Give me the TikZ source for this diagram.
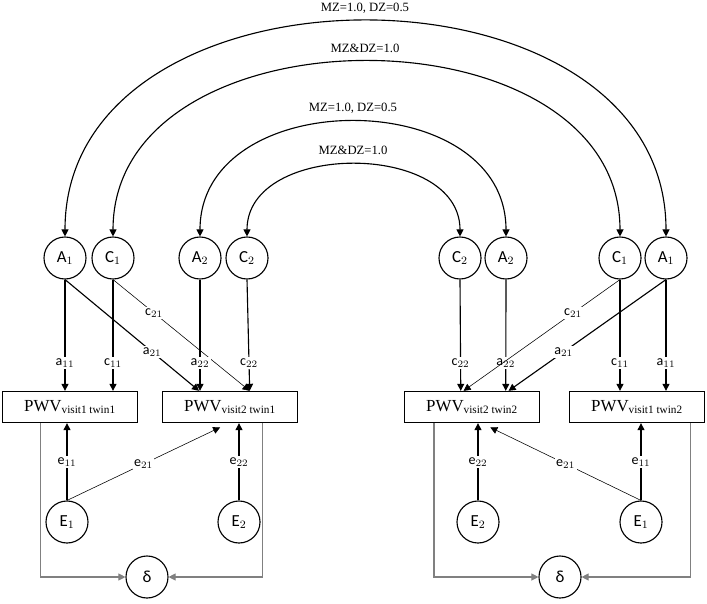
\documentclass[tikz,border=0pt]{standalone}
\usepackage{fontspec}
\setmainfont{Liberation Serif}
\newfontfamily\carl{Carlito}
\usetikzlibrary{arrows.meta,positioning}
\tikzset{
  lat/.style={circle,draw,thick,minimum size=1.05cm,inner sep=0pt,font=\carl\large},
  obs/.style={draw,thick,minimum width=3.38cm,minimum height=0.78cm,inner sep=0pt,font=\large},
  path/.style={thick},
  tip/.style={-{Triangle[length=5pt,width=5pt]}},
  lab/.style={fill=white,inner sep=1pt,font=\carl},
  cov/.style={thick,{Triangle[length=5pt,width=5pt]}-{Triangle[length=5pt,width=5pt]}},
}
\begin{document}
\begin{tikzpicture}[x=0.025cm,y=-0.025cm]
  \useasboundingbox (0,0) rectangle (707,603);
  % latent factors
  \node[lat] (A1l) at (65,258) {A$_1$};
  \node[lat] (C1l) at (113,258) {C$_1$};
  \node[lat] (A2l) at (200,258) {A$_2$};
  \node[lat] (C2l) at (247,258) {C$_2$};
  \node[lat] (C2r) at (460,258) {C$_2$};
  \node[lat] (A2r) at (506,258) {A$_2$};
  \node[lat] (C1r) at (620,258) {C$_1$};
  \node[lat] (A1r) at (666,258) {A$_1$};
  % observed
  \node[obs] (P11) at (70,407) {PWV\textsubscript{visit1 twin1}};
  \node[obs] (P21) at (230,407) {PWV\textsubscript{visit2 twin1}};
  \node[obs] (P22) at (472,407) {PWV\textsubscript{visit2 twin2}};
  \node[obs] (P12) at (637,407) {PWV\textsubscript{visit1 twin2}};
  % errors
  \node[lat] (E1l) at (67,522) {E$_1$};
  \node[lat] (E2l) at (239,522) {E$_2$};
  \node[lat] (E2r) at (478,522) {E$_2$};
  \node[lat] (E1r) at (641,522) {E$_1$};
  \node[lat] (dl) at (147,577) {δ};
  \node[lat] (dr) at (560,577) {δ};
  % covariances
  \draw[cov] (A1l.north) .. controls (65,-50) and (666,-50) .. (A1r.north);
  \node[font=\small] at (365,8) {MZ=1.0, DZ=0.5};
  \draw[cov] (C1l.north) .. controls (113,4) and (620,4) .. (C1r.north);
  \node[font=\small] at (365,48) {MZ\&DZ=1.0};
  \draw[cov] (A2l.north) .. controls (200,84) and (506,84) .. (A2r.north);
  \node[font=\small] at (353,108) {MZ=1.0, DZ=0.5};
  \draw[cov] (C2l.north) .. controls (247,141) and (460,141) .. (C2r.north);
  \node[font=\small] at (353,150) {MZ\&DZ=1.0};
  % twin 1 loadings
  \draw[path,tip] (A1l.south) -- node[lab,pos=0.75]{a$_{11}$} (A1l.south |- P11.north);
  \draw[path,tip] (C1l.south) -- node[lab,pos=0.75]{c$_{11}$} (C1l.south |- P11.north);
  \draw[path,tip] (A1l.south) -- node[lab,pos=0.65]{a$_{21}$} ([xshift=-22pt]P21.north);
  \draw[thin,tip] (C1l.south) -- node[lab,pos=0.3]{c$_{21}$} ([xshift=14pt]P21.north);
  \draw[path,tip] (A2l.south) -- node[lab,pos=0.75]{a$_{22}$} (A2l.south |- P21.north);
  \draw[path,tip] (C2l.south) -- node[lab,pos=0.75]{c$_{22}$} ([xshift=14pt]P21.north);
  % twin 2 loadings
  \draw[path,tip] (C2r.south) -- node[lab,pos=0.75]{c$_{22}$} ([xshift=-8pt]P22.north);
  \draw[path,tip] (A2r.south) -- node[lab,pos=0.75]{a$_{22}$} ([xshift=24pt]P22.north);
  \draw[thin,tip] (C1r.south) -- node[lab,pos=0.3]{c$_{21}$} ([xshift=-6pt]P22.north);
  \draw[path,tip] (A1r.south) -- node[lab,pos=0.65]{a$_{21}$} ([xshift=26pt]P22.north);
  \draw[path,tip] (C1r.south) -- node[lab,pos=0.75]{c$_{11}$} (C1r.south |- P12.north);
  \draw[path,tip] (A1r.south) -- node[lab,pos=0.75]{a$_{11}$} (A1r.south |- P12.north);
  % residuals
  \draw[path,tip] (E1l.north) -- node[lab]{e$_{11}$} (E1l.north |- P11.south);
  \draw[thin,tip] (E1l.north) -- node[lab]{e$_{21}$} ([xshift=-7pt,yshift=-3pt]P21.south);
  \draw[path,tip] (E2l.north) -- node[lab]{e$_{22}$} (E2l.north |- P21.south);
  \draw[path,tip] (E2r.north) -- node[lab]{e$_{22}$} (E2r.north |- P22.south);
  \draw[thin,tip] (E1r.north) -- node[lab]{e$_{21}$} ([xshift=13pt,yshift=-3pt]P22.south);
  \draw[path,tip] (E1r.north) -- node[lab]{e$_{11}$} (E1r.north |- P12.south);
  % delta paths
  \draw[gray,thick,tip] ([xshift=-21pt]P11.south) |- (dl.west);
  \draw[gray,thick,tip] ([xshift=23pt]P21.south) |- (dl.east);
  \draw[gray,thick,tip] ([xshift=-27pt]P22.south) |- (dr.west);
  \draw[gray,thick,tip] ([xshift=38pt]P12.south) |- (dr.east);
\end{tikzpicture}
\end{document}
